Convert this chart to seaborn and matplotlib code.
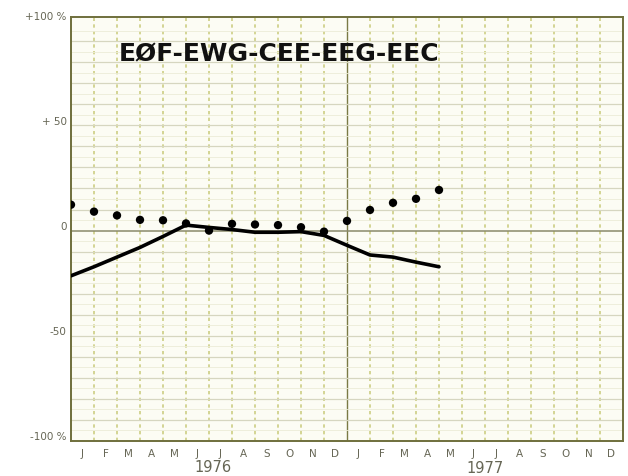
import numpy as np
import pandas as pd
import matplotlib
matplotlib.use('Agg')
import matplotlib.pyplot as plt
import matplotlib.transforms as mtransforms
import seaborn as sns

# month labels for the two years on the axis
months = ['J', 'F', 'M', 'A', 'M', 'J', 'J', 'A', 'S', 'O', 'N', 'D']
years = ['1976', '1977']

# dotted series (one value per month boundary)
dot_x = list(range(17))
dot_vals = [12.3, 9.0, 7.2, 5.1, 4.9, 3.4, 0.0, 3.2, 2.9, 2.6, 1.6, -0.5,
            4.6, 9.8, 13.2, 15.1, 19.3]

# solid line series
line_x = list(range(17))
line_vals = [-21.5, -17.2, -12.6, -8.0, -2.8, 2.6, 1.5, 0.5, -0.8, -0.8, -0.5, -2.3,
             -7.0, -11.6, -12.6, -15.0, -17.2]

dots = pd.DataFrame({'x': dot_x, 'v': dot_vals})
line = pd.DataFrame({'x': line_x, 'v': line_vals})

sns.set_style('white')
plt.rcParams['font.family'] = ['DejaVu Sans']

grid_col = '#cdce84'
spine_col = '#6f6f3c'
text_col = '#666655'

fig = plt.figure(figsize=(6.28, 4.77), dpi=100)
ax = fig.add_axes([71 / 628, 1 - 442 / 477, 552 / 628, 424 / 477])
ax.set_facecolor('#fcfcf4')

ax.set_xlim(0, 24)
ax.set_ylim(-100, 101.5)

# paper grid
for k in range(1, 24):
    if k == 12:
        ax.axvline(k, color='#7a7a45', lw=1.0, zorder=1)
    else:
        ax.axvline(k, color=grid_col, lw=1.2, ls=(0, (2, 2)), zorder=1)
for v in range(-90, 100, 10):
    if v == 0:
        ax.axhline(v, color='#8a8a6a', lw=1.1, zorder=1)
    else:
        ax.axhline(v, color='#d6d6c0', lw=0.9, zorder=1)
for v in range(-95, 100, 10):
    ax.axhline(v, color='#ececd8', lw=0.6, zorder=1)

sns.lineplot(data=line, x='x', y='v', color='black', lw=2.6, ax=ax, zorder=3)
sns.scatterplot(data=dots, x='x', y='v', color='black', s=36, edgecolor='none', ax=ax, zorder=4)

ax.set_xlabel('')
ax.set_ylabel('')

# month labels centred in each month
ax.set_xticks(np.arange(24) + 0.5)
ax.set_xticklabels(months * 2, fontsize=7.5, color=text_col)
ax.tick_params(axis='x', length=0, pad=5)

ax.set_yticks([100, 50, 0, -50, -100])
ax.set_yticklabels(['+100 %', '+ 50', '0', '-50', '-100 %'], fontsize=7.5, color=text_col)
ax.tick_params(axis='y', length=0, pad=3)
offset = mtransforms.ScaledTranslation(0, 4 / 72, fig.dpi_scale_trans)
for lab in ax.get_yticklabels():
    lab.set_transform(lab.get_transform() + offset)

for s in ax.spines.values():
    s.set_color(spine_col)
    s.set_linewidth(1.4)

fig.text(213 / 628, 1 - 468 / 477, years[0], ha='center', va='center',
         fontsize=10.5, color=text_col)
fig.text(485 / 628, 1 - 469 / 477, years[1], ha='center', va='center',
         fontsize=10.5, color=text_col)

ax.text(119 / 628, 1 - 54 / 477, 'EØF-EWG-CEE-EEG-EEC', transform=fig.transFigure,
        ha='left', va='center', fontsize=18, fontweight='bold', color='#111111',
        family=['DejaVu Sans'])

fig.savefig('out.png', dpi=100)
